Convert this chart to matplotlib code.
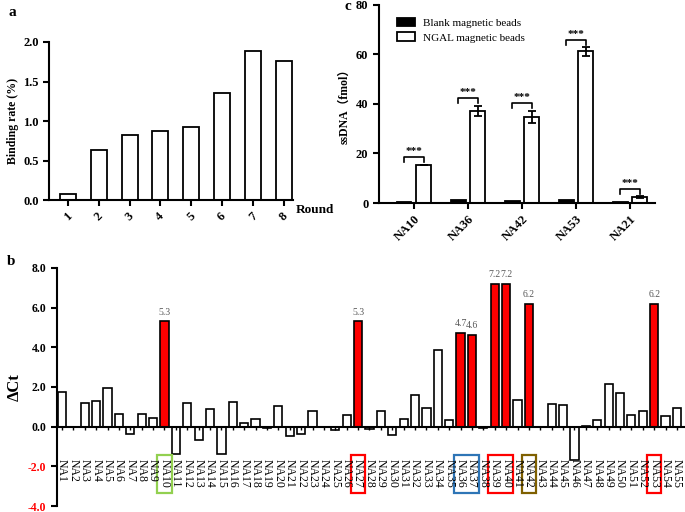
import matplotlib.pyplot as plt
from matplotlib.patches import Rectangle

plt.rcParams['font.family'] = ['Liberation Serif', 'Noto Sans CJK SC']

# panel a
rounds = ['1', '2', '3', '4', '5', '6', '7', '8']
binding_rate = [0.08, 0.63, 0.82, 0.88, 0.93, 1.35, 1.89, 1.76]

# panel c
aptamers_c = ['NA10', 'NA36', 'NA42', 'NA53', 'NA21']
blank_beads = [0.4, 1.2, 0.9, 1.2, 0.6]
ngal_beads = [15.5, 37.3, 34.8, 61.2, 2.5]
ngal_err = [0.0, 2.0, 2.5, 1.7, 0.3]

# panel b
names_b = ['NA%d' % i for i in range(1, 56)]
delta_ct = [1.77, 0.0, 1.18, 1.28, 1.97, 0.63, -0.38, 0.63, 0.45, 5.3,
            -1.40, 1.21, -0.65, 0.88, -1.40, 1.24, 0.18, 0.39, -0.07, 1.04,
            -0.46, -0.37, 0.79, 0.0, -0.15, 0.61, 5.3, -0.10, 0.79, -0.44,
            0.37, 1.60, 0.96, 3.85, 0.32, 4.7, 4.6, -0.06, 7.2, 7.2,
            1.35, 6.2, 0.0, 1.13, 1.11, -1.68, 0.03, 0.32, 2.17, 1.68,
            0.61, 0.77, 6.2, 0.52, 0.93]
highlight = ['NA10', 'NA27', 'NA36', 'NA37', 'NA39', 'NA40', 'NA42', 'NA53']
boxes = [(['NA10'], '#92D050'), (['NA27'], '#FF0000'), (['NA36', 'NA37'], '#2E75B6'),
         (['NA39', 'NA40'], '#FF0000'), (['NA42'], '#7F6000'), (['NA53'], '#FF0000')]

fig = plt.figure(figsize=(6.85, 5.12), dpi=100)

# ---- a ----
ax_a = fig.add_axes([0.0715, 0.609, 0.356, 0.309])
xa = list(range(1, len(rounds) + 1))
ax_a.bar(xa, binding_rate, width=0.52, color='white', edgecolor='black', linewidth=1.3)
ax_a.set_xlim(0.39, 8.29)
ax_a.set_ylim(0, 2.0)
ax_a.set_yticks([0.0, 0.5, 1.0, 1.5, 2.0])
ax_a.set_yticklabels(['0.0', '0.5', '1.0', '1.5', '2.0'], fontweight='bold', fontsize=9)
ax_a.set_xticks(xa)
ax_a.set_xticklabels(rounds, rotation=45, fontweight='bold', fontsize=9)
ax_a.set_ylabel('Binding rate (%)', fontweight='bold', fontsize=8.5, labelpad=3)
ax_a.text(1.01, -0.06, 'Round', transform=ax_a.transAxes, fontweight='bold', fontsize=9.5, va='center')
for s in ['top', 'right']:
    ax_a.spines[s].set_visible(False)
for s in ['left', 'bottom']:
    ax_a.spines[s].set_linewidth(1.5)
ax_a.tick_params(width=1.5, length=4)
fig.text(0.012, 0.975, 'a', fontweight='bold', fontsize=11, va='center')

# ---- c ----
ax_c = fig.add_axes([0.553, 0.6035, 0.403, 0.387])
xc = list(range(len(aptamers_c)))
off = 0.18
w = 0.27
ax_c.bar([x - off for x in xc], blank_beads, width=w, color='black', edgecolor='black',
         linewidth=1.3, label='Blank magnetic beads')
ax_c.bar([x + off for x in xc], ngal_beads, width=w, color='white', edgecolor='black',
         linewidth=1.3, yerr=ngal_err, capsize=3, error_kw={'elinewidth': 1.3, 'capthick': 1.3},
         label='NGAL magnetic beads')
for x, v, e in zip(xc, ngal_beads, ngal_err):
    yb = v + e + 3
    ax_c.plot([x - off, x - off, x + off, x + off], [yb - 2, yb, yb, yb - 2], color='black', lw=1.2)
    ax_c.text(x, yb + 0.3, '***', ha='center', va='bottom', fontsize=8, fontweight='bold')
ax_c.set_xlim(-0.65, 4.46)
ax_c.set_ylim(0, 80)
ax_c.set_yticks([0, 20, 40, 60, 80])
ax_c.set_yticklabels(['0', '20', '40', '60', '80'], fontweight='bold', fontsize=9)
ax_c.set_xticks(xc)
ax_c.set_xticklabels(aptamers_c, rotation=45, ha='right', rotation_mode='anchor',
                     fontweight='bold', fontsize=9)
ax_c.set_ylabel('ssDNA（fmol）', fontweight='bold', fontsize=8.5)
for s in ['top', 'right']:
    ax_c.spines[s].set_visible(False)
for s in ['left', 'bottom']:
    ax_c.spines[s].set_linewidth(1.5)
ax_c.tick_params(width=1.5, length=4)
ax_c.legend(loc='upper left', bbox_to_anchor=(0.03, 0.985), frameon=False, fontsize=8,
            handlelength=1.6, handleheight=0.8, handletextpad=0.7, labelspacing=0.4)
fig.text(0.503, 0.987, 'c', fontweight='bold', fontsize=11, va='center')

# ---- b ----
ax_b = fig.add_axes([0.0832, 0.0117, 0.915, 0.465])
ax_b.spines['bottom'].set_position(('data', 0))
xb = list(range(1, len(names_b) + 1))
colors = ['#FF0000' if n in highlight else 'white' for n in names_b]
ax_b.bar(xb, delta_ct, width=0.72, color=colors, edgecolor='black', linewidth=1.2)
for x, n, v in zip(xb, names_b, delta_ct):
    if n in highlight:
        ax_b.text(x, v + 0.25, '%.1f' % v, ha='center', va='bottom', fontsize=7, color='#595959')
ax_b.set_xlim(0.56, 55.6)
ax_b.set_ylim(-4, 8)
yt = [-4, -2, 0, 2, 4, 6, 8]
ax_b.set_yticks(yt)
ax_b.set_yticklabels(['%.1f' % t for t in yt], fontweight='bold', fontsize=8.5)
for lab, t in zip(ax_b.get_yticklabels(), yt):
    if t < 0:
        lab.set_color('red')
ax_b.set_xticks(xb)
ax_b.set_xticklabels(names_b, rotation=270, fontsize=8.5)
ax_b.tick_params(axis='x', length=2, width=1, pad=21.5)
ax_b.tick_params(axis='y', length=4, width=1.5)
ax_b.spines['bottom'].set_linewidth(1.5)
ax_b.spines['left'].set_linewidth(1.5)
for s in ['top', 'right']:
    ax_b.spines[s].set_visible(False)
ax_b.set_ylabel('ΔCt', fontweight='bold', fontsize=12, labelpad=4)
for group, col in boxes:
    i0 = names_b.index(group[0]) + 1
    i1 = names_b.index(group[-1]) + 1
    ax_b.add_patch(Rectangle((i0 - 0.62, -3.32), i1 - i0 + 1.24, 1.91, fill=False,
                             edgecolor=col, linewidth=1.6, clip_on=False))
fig.text(0.01, 0.49, 'b', fontweight='bold', fontsize=11, va='center')

plt.savefig('out.png', dpi=100)
